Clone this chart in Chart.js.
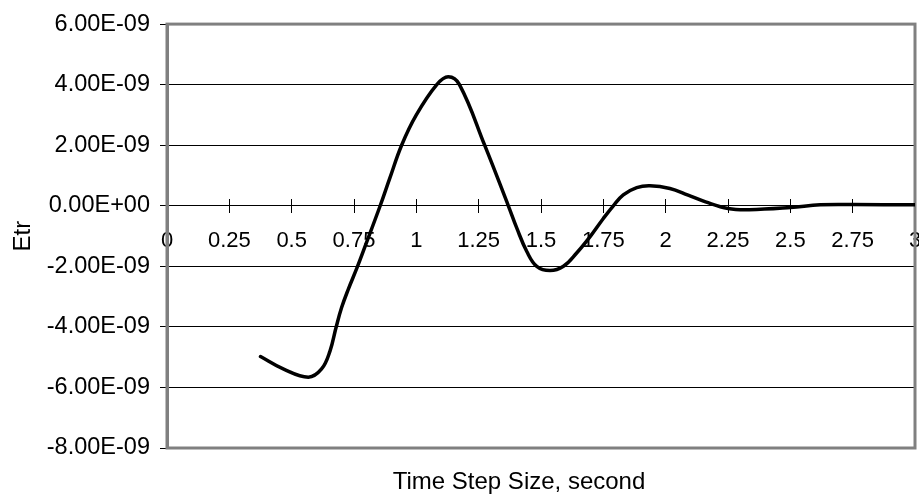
<!DOCTYPE html>
<html>
<head>
<meta charset="utf-8">
<script src="https://cdn.jsdelivr.net/npm/chart.js@4"></script>
<style>
  html, body { margin: 0; padding: 0; background: #ffffff; }
  #wrap { width: 919px; height: 500px; }
</style>
</head>
<body>
<div id="wrap"><canvas id="c" width="919" height="500"></canvas></div>
<script>
// ---- data ----
const timeStep = [0.375, 0.466, 0.567, 0.62, 0.654, 0.678, 0.70, 0.727, 0.761, 0.794, 0.855, 0.894, 0.941, 1.0, 1.082, 1.128, 1.173, 1.274, 1.369, 1.403, 1.443, 1.483, 1.536, 1.59, 1.643, 1.697, 1.75, 1.79, 1.83, 1.884, 1.937, 2.017, 2.09, 2.16, 2.25, 2.335, 2.5, 2.62, 2.75, 3.0];
const etr = [-4.98e-9, -5.39e-9, -5.66e-9, -5.39e-9, -4.79e-9, -4.02e-9, -3.37e-9, -2.76e-9, -2.07e-9, -1.35e-9, 0.0, 0.92e-9, 2.0e-9, 3.0e-9, 4.0e-9, 4.26e-9, 4.0e-9, 2.0e-9, 0.0, -0.74e-9, -1.51e-9, -2.0e-9, -2.14e-9, -2.0e-9, -1.56e-9, -1.02e-9, -0.42e-9, 0.0, 0.36e-9, 0.60e-9, 0.66e-9, 0.57e-9, 0.35e-9, 0.13e-9, -0.09e-9, -0.13e-9, -0.06e-9, 0.03e-9, 0.04e-9, 0.03e-9];
const xTicks = { min: 0, max: 3, step: 0.25 };
const yTicks = { min: -8e-9, max: 6e-9, step: 2e-9 };
const xTitle = 'Time Step Size, second';
const yTitle = 'Etr';

function sci(v) {
  if (Math.abs(v) < 1e-15) v = 0;
  const s = v.toExponential(2);
  const parts = s.split('e');
  const sign = parts[1][0] === '-' ? '-' : '+';
  let ex = parts[1].replace(/^[+-]/, '');
  if (ex.length < 2) ex = '0' + ex;
  return parts[0] + 'E' + sign + ex;
}

const FONT = '"Liberation Sans", Arial, sans-serif';

const framePlugin = {
  id: 'frame',
  beforeDatasetsDraw(chart) {
    const a = chart.chartArea, ctx = chart.ctx;
    ctx.save();
    ctx.strokeStyle = '#808080';
    ctx.lineWidth = 3;
    ctx.strokeRect(a.left, a.top, a.right - a.left, a.bottom - a.top);
    ctx.restore();
  }
};

const xTitlePlugin = {
  id: 'xTitle',
  afterDraw(chart) {
    const ctx = chart.ctx;
    ctx.save();
    ctx.fillStyle = '#000000';
    ctx.font = '24px ' + FONT;
    ctx.textAlign = 'center';
    ctx.textBaseline = 'alphabetic';
    ctx.fillText(xTitle, 519, 489);
    ctx.restore();
  }
};

new Chart(document.getElementById('c'), {
  type: 'line',
  data: {
    datasets: [{
      data: timeStep.map((x, i) => ({ x: x, y: etr[i] })),
      borderColor: '#000000',
      borderWidth: 3.5,
      pointRadius: 0,
      fill: false,
      tension: 0.4,
      borderJoinStyle: 'round',
      borderCapStyle: 'round'
    }]
  },
  options: {
    responsive: false,
    animation: false,
    layout: { padding: { left: 0, right: 4, top: 21, bottom: 52 } },
    plugins: { legend: { display: false }, tooltip: { enabled: false }, title: { display: false } },
    scales: {
      x: {
        type: 'linear',
        position: { y: 0 },
        min: xTicks.min, max: xTicks.max,
        grid: { display: true, drawOnChartArea: false, drawTicks: true, tickLength: 7, color: '#000000', lineWidth: 1 },
        border: { display: false },
        ticks: {
          stepSize: xTicks.step, autoSkip: false, maxRotation: 0, padding: 15,
          color: '#000000', font: { family: FONT, size: 22 },
          callback: v => String(Number(v.toFixed(2)))
        },
        afterFit(s) { s.paddingLeft = 0; s.paddingRight = 0; }
      },
      x2: {
        type: 'linear',
        axis: 'x',
        position: { y: 0 },
        min: xTicks.min, max: xTicks.max,
        grid: { display: true, drawOnChartArea: false, drawTicks: true, tickLength: -7, color: '#000000', lineWidth: 1 },
        border: { display: false },
        ticks: { stepSize: xTicks.step, autoSkip: false, maxRotation: 0, display: false },
        afterFit(s) { s.paddingLeft = 0; s.paddingRight = 0; }
      },
      y: {
        type: 'linear',
        position: 'left',
        min: yTicks.min, max: yTicks.max,
        grid: { color: '#000000', lineWidth: 1, tickLength: 7, drawTicks: true },
        border: { display: true, color: '#808080', width: 3 },
        ticks: {
          stepSize: yTicks.step, padding: 10, color: '#000000',
          font: { family: FONT, size: 23.5 },
          callback: v => sci(v)
        },
        title: { display: true, text: yTitle, color: '#000000', font: { family: FONT, size: 24 }, padding: { top: 9, bottom: 0 } },
        afterFit(s) { s.width = 167; }
      }
    }
  },
  plugins: [framePlugin, xTitlePlugin]
});
</script>
</body>
</html>
